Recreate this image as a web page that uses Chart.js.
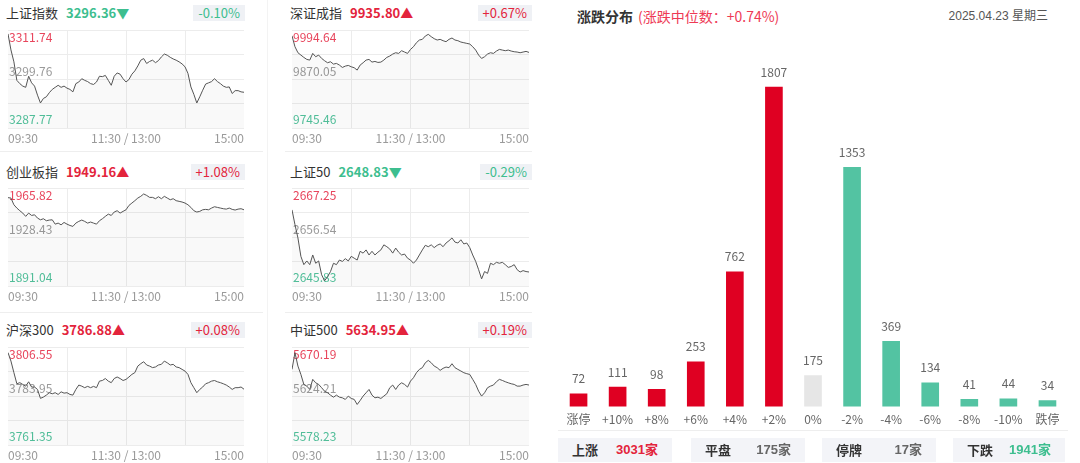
<!DOCTYPE html>
<html>
<head>
<meta charset="utf-8">
<script src="https://cdn.jsdelivr.net/npm/chart.js@4.4.1/dist/chart.umd.min.js"></script>
<style>
body { margin:0; width:1080px; height:463px; background:#fff; overflow:hidden; position:relative; font-family:"Noto Sans CJK SC", sans-serif; }
canvas { position:absolute; }
.head { position:absolute; height:18px; line-height:18px; font-size:13px; white-space:nowrap; display:flex; }
.head .nm { color:#333; }
.head .pr { font-weight:bold; margin-left:8px; }
.chg { position:absolute; height:16px; line-height:16px; font-size:13px; padding:0 5px; background:#eff1f5; }
.up { color:#e3243c; }
.down { color:#3dbe8f; }
.line { position:absolute; background:#eeeeee; }
.title { position:absolute; left:577px; top:6px; font-size:14px; font-weight:bold; color:#333; line-height:20px; }
.sub { position:absolute; left:638px; top:6px; font-size:14px; color:#ee3a55; line-height:20px; }
.date { position:absolute; right:32px; top:8px; font-size:12px; color:#555; line-height:16px; font-family:"Liberation Sans", "Noto Sans CJK SC", sans-serif; }
.box { position:absolute; top:438px; height:24px; line-height:24px; background:#f3f4f8; font-size:13px; font-weight:bold; display:flex; justify-content:space-between; padding:0 14px 0 14px; box-sizing:border-box; }
.box .k { color:#333; }
.box .v { font-family:"Liberation Sans", "Noto Sans CJK SC", sans-serif; }
</style>
</head>
<body>
<div id="left"></div>
<div class="title">涨跌分布</div>
<div class="sub">(涨跌中位数：+0.74%)</div>
<div class="date">2025.04.23 星期三</div>
<canvas id="g_dist" width="508" height="393" style="left:559px;top:40px"></canvas>
<div class="line" style="left:558px;top:430px;width:510px;height:1px"></div>
<div id="summary"></div>
<script>
Chart.defaults.font.family = "'Noto Sans CJK SC', sans-serif";
Chart.defaults.animation = false;

// 横轴刻度
const timeTicks = ['09:30', '', '11:30 / 13:00', '', '15:00'];

const indexNames = ['上证指数', '深证成指', '创业板指', '上证50', '沪深300', '中证500'];
const indexPrices = ['3296.36▼', '9935.80▲', '1949.16▲', '2648.83▼', '3786.88▲', '5634.95▲'];
const indexChanges = ['-0.10%', '+0.67%', '+1.08%', '-0.29%', '+0.08%', '+0.19%'];

// 纵轴: [下限, 昨收, 上限]
const shAxis = [3287.77, 3299.76, 3311.74];
const szAxis = [9745.46, 9870.05, 9994.64];
const cybAxis = [1891.04, 1928.43, 1965.82];
const sz50Axis = [2645.83, 2656.54, 2667.25];
const hs300Axis = [3761.35, 3783.95, 3806.55];
const zz500Axis = [5578.23, 5624.21, 5670.19];

// 分时走势 (每3分钟一个点)
const shLine = [
  3310.8, 3306.9, 3304.0, 3299.5, 3298.7, 3298.1, 3297.8, 3300.5, 3298.9, 3298.1,
  3295.9, 3294.0, 3295.1, 3295.5, 3296.5, 3297.3, 3297.8, 3298.3, 3297.8, 3298.1,
  3297.6, 3297.3, 3296.7, 3298.7, 3299.1, 3299.9, 3299.5, 3299.2, 3298.7, 3298.5,
  3299.1, 3300.5, 3300.4, 3300.7, 3299.5, 3298.3, 3300.5, 3301.3, 3301.0, 3299.9,
  3299.1, 3299.7, 3301.0, 3301.8, 3303.0, 3304.4, 3304.8, 3303.6, 3304.1, 3304.4,
  3303.8, 3304.3, 3305.2, 3305.9, 3305.6, 3305.1, 3304.7, 3304.4, 3304.0, 3303.5,
  3302.8, 3301.2, 3297.9, 3296.1, 3294.0, 3295.5, 3297.1, 3298.6, 3298.9, 3299.2,
  3299.9, 3299.2, 3298.7, 3298.1, 3297.8, 3297.9, 3296.3, 3297.0, 3297.0, 3296.7,
  3296.6
];
const szLine = [
  9980.0, 9952.4, 9937.2, 9931.3, 9925.4, 9920.3, 9918.6, 9935.5, 9927.1, 9931.3,
  9922.8, 9917.0, 9911.9, 9914.4, 9908.5, 9910.2, 9906.0, 9900.0, 9903.4, 9905.1,
  9901.7, 9899.2, 9893.3, 9906.0, 9911.9, 9918.6, 9920.3, 9913.5, 9915.2, 9912.7,
  9913.5, 9918.6, 9925.4, 9928.8, 9933.8, 9937.2, 9935.5, 9942.3, 9938.9, 9935.5,
  9945.6, 9952.4, 9962.5, 9969.3, 9971.0, 9979.4, 9983.7, 9977.7, 9972.7, 9969.3,
  9971.0, 9967.6, 9965.1, 9971.0, 9974.4, 9969.3, 9967.6, 9964.2, 9962.5, 9960.8,
  9959.2, 9952.4, 9943.9, 9931.3, 9922.8, 9927.1, 9933.8, 9937.2, 9935.5, 9941.4,
  9945.6, 9943.9, 9942.3, 9943.9, 9941.4, 9939.7, 9938.9, 9937.2, 9938.9, 9940.6,
  9938.0
];
const cybLine = [
  1958.5, 1958.2, 1953.1, 1950.6, 1948.6, 1946.8, 1944.3, 1946.8, 1945.0, 1945.5,
  1943.0, 1941.7, 1942.5, 1941.0, 1941.5, 1941.7, 1938.4, 1939.2, 1937.9, 1939.7,
  1938.4, 1937.4, 1936.7, 1939.2, 1940.5, 1941.5, 1940.5, 1939.2, 1940.0, 1939.2,
  1938.4, 1941.0, 1942.5, 1944.3, 1946.0, 1945.0, 1947.6, 1948.6, 1946.8, 1948.1,
  1949.3, 1952.6, 1954.4, 1956.2, 1958.2, 1959.5, 1961.3, 1960.2, 1958.7, 1958.7,
  1957.7, 1959.2, 1957.7, 1959.5, 1958.2, 1956.9, 1957.7, 1956.2, 1955.7, 1955.2,
  1954.4, 1953.1, 1951.1, 1948.6, 1947.6, 1948.1, 1949.3, 1949.6, 1949.3, 1950.6,
  1951.6, 1951.1, 1950.6, 1950.1, 1949.8, 1950.6, 1949.6, 1949.1, 1949.8, 1950.1,
  1949.3
];
const sz50Line = [
  2662.5, 2659.3, 2656.4, 2652.4, 2650.6, 2651.4, 2650.6, 2652.7, 2650.9, 2651.4,
  2648.4, 2647.1, 2648.0, 2649.1, 2650.9, 2650.6, 2651.6, 2651.3, 2651.9, 2651.4,
  2652.4, 2652.0, 2651.6, 2653.5, 2653.1, 2653.8, 2652.7, 2653.5, 2652.7, 2653.3,
  2653.8, 2654.9, 2654.5, 2654.0, 2653.1, 2654.2, 2653.3, 2652.7, 2652.9, 2652.0,
  2651.6, 2650.9, 2651.6, 2652.7, 2653.8, 2654.8, 2654.5, 2654.9, 2654.3, 2654.8,
  2655.1, 2654.5, 2655.3, 2655.8, 2656.4, 2655.5, 2655.3, 2656.0, 2655.1, 2655.3,
  2654.3, 2652.7, 2651.3, 2649.5, 2647.5, 2649.1, 2648.7, 2650.9, 2650.6, 2651.1,
  2650.9, 2651.1, 2650.6, 2650.0, 2650.2, 2650.6, 2649.5, 2649.0, 2649.3, 2649.1,
  2649.0
];
const hs300Line = [
  3804.0, 3800.1, 3794.8, 3789.7, 3790.2, 3789.4, 3788.6, 3790.6, 3788.2, 3788.2,
  3787.1, 3783.0, 3783.6, 3784.5, 3785.6, 3785.1, 3785.6, 3784.8, 3786.0, 3785.4,
  3785.6, 3784.8, 3784.5, 3787.1, 3789.1, 3788.6, 3787.9, 3788.5, 3787.9, 3788.5,
  3787.9, 3790.9, 3791.2, 3792.1, 3790.9, 3790.2, 3792.1, 3792.8, 3792.1, 3791.2,
  3791.7, 3792.8, 3794.0, 3794.8, 3797.8, 3798.9, 3799.8, 3798.3, 3797.8, 3797.1,
  3797.4, 3798.3, 3798.6, 3800.1, 3799.3, 3798.3, 3798.6, 3797.4, 3797.1, 3796.3,
  3795.5, 3794.0, 3790.2, 3787.9, 3785.6, 3787.1, 3788.2, 3789.7, 3790.2, 3790.9,
  3791.2, 3790.6, 3790.2, 3789.7, 3789.1, 3788.2, 3787.1, 3787.9, 3787.9, 3788.2,
  3787.2
];
const zz500Line = [
  5649.3, 5664.9, 5652.4, 5644.6, 5635.3, 5633.7, 5630.6, 5640.0, 5636.8, 5635.3,
  5632.2, 5629.0, 5627.5, 5625.3, 5623.4, 5625.3, 5623.4, 5622.8, 5621.3, 5624.4,
  5622.2, 5621.3, 5616.6, 5620.3, 5624.4, 5627.5, 5630.6, 5625.3, 5622.8, 5623.4,
  5622.2, 5624.4, 5626.6, 5632.2, 5634.7, 5630.6, 5634.7, 5636.8, 5635.3, 5632.8,
  5638.4, 5641.5, 5646.2, 5649.3, 5650.9, 5655.5, 5657.7, 5655.5, 5652.4, 5650.9,
  5648.4, 5650.3, 5651.5, 5650.9, 5654.6, 5650.9, 5649.3, 5647.8, 5646.2, 5645.3,
  5644.6, 5640.0, 5635.3, 5629.0, 5624.4, 5627.5, 5632.2, 5633.7, 5634.7, 5637.8,
  5640.0, 5639.0, 5637.8, 5636.8, 5635.9, 5635.3, 5633.7, 5633.7, 5634.7, 5635.3,
  5634.7
];

// 涨跌分布
const distLabels = ['涨停', '+10%', '+8%', '+6%', '+4%', '+2%', '0%', '-2%', '-4%', '-6%', '-8%', '-10%', '跌停'];
const distCounts = [72, 111, 98, 253, 762, 1807, 175, 1353, 369, 134, 41, 44, 34];
const summaryNames = ['上涨', '平盘', '停牌', '下跌'];
const summaryCounts = ['3031家', '175家', '17家', '1941家'];

const allLines = [shLine, szLine, cybLine, sz50Line, hs300Line, zz500Line];
const allAxes = [shAxis, szAxis, cybAxis, sz50Axis, hs300Axis, zz500Axis];

//左侧y轴的三个数字, 画在线的下面
const sideLabels = {
  id: 'sideLabels',
  beforeDatasetsDraw(chart, args, opts) {
    if (!opts.axis) return;
    const y = chart.scales.y;
    const ctx = chart.ctx;
    const left = chart.chartArea.left + 1;
    const a = opts.axis;
    ctx.save();
    ctx.font = "12px 'Noto Sans CJK SC', sans-serif";
    ctx.textBaseline = 'middle';
    ctx.fillStyle = '#e8455c';
    ctx.fillText(a[2].toFixed(2), left, y.getPixelForValue(a[2]) + 7);
    ctx.fillStyle = '#9a9a9a';
    ctx.fillText(a[1].toFixed(2), left, y.getPixelForValue((a[0] + a[2]) / 2) - 8);
    ctx.fillStyle = '#52c29c';
    ctx.fillText(a[0].toFixed(2), left, y.getPixelForValue(a[0]) - 9);
    ctx.restore();
  }
};

function miniChart(i) {
  const col = i % 2, row = Math.floor(i / 2);
  const areaLeft = [5, 289][col];
  const areaW = [242, 243][col];
  const headY = [4, 163, 321][row];
  const chartTop = [29, 187, 346][row];
  const up = indexChanges[i][0] == '+';
  const cls = up ? 'up' : 'down';

  let html = '<div class="head" style="left:' + (areaLeft + 1) + 'px;top:' + headY + 'px">' +
    '<span class="nm">' + indexNames[i] + '</span><span class="pr ' + cls + '">' + indexPrices[i] + '</span></div>' +
    '<div class="chg ' + cls + '" style="right:' + (1080 - [245, 532][col]) + 'px;top:' + (headY + 1) + 'px">' + indexChanges[i] + '</div>' +
    '<canvas id="g' + i + '" width="' + areaW + '" height="120" style="left:' + areaLeft + 'px;top:' + chartTop + 'px"></canvas>';
  document.getElementById('left').insertAdjacentHTML('beforeend', html);
}

for (let i = 0; i < 6; i++) miniChart(i);

// 分隔线
let seps = '';
seps += '<div class="line" style="left:0;top:151px;width:263px;height:1px"></div>';
seps += '<div class="line" style="left:285px;top:151px;width:247px;height:1px"></div>';
seps += '<div class="line" style="left:0;top:312px;width:263px;height:1px"></div>';
seps += '<div class="line" style="left:285px;top:312px;width:247px;height:1px"></div>';
seps += '<div class="line" style="left:267px;top:0;width:1px;height:463px;background:#f3f3f3"></div>';
document.getElementById('left').insertAdjacentHTML('beforeend', seps);

for (let i = 0; i < 6; i++) {
  const axis = allAxes[i];
  const points = allLines[i].map((v, k) => ({x: k, y: v}));
  new Chart(document.getElementById('g' + i).getContext('2d'), {
    type: 'line',
    data: {
      datasets: [{
        data: points,
        borderColor: '#555',
        borderWidth: 1,
        pointRadius: 0,
        tension: 0,
        fill: 'start',
        backgroundColor: 'rgba(0,0,0,0.025)'
      }]
    },
    options: {
      responsive: false,
      layout: {padding: {top: 1, right: 1}},
      plugins: {
        legend: {display: false},
        tooltip: {enabled: false},
        sideLabels: {axis: axis}
      },
      scales: {
        x: {
          type: 'linear',
          min: 0,
          max: 80,
          border: {display: false},
          grid: {
            drawTicks: false,
            color: (c) => (c.tick && (c.tick.value == 0 || c.tick.value == 80)) ? 'rgba(0,0,0,0)' : '#ececec'
          },
          ticks: {
            stepSize: 20,
            autoSkip: false,
            maxRotation: 0,
            align: 'inner',
            padding: 3,
            color: '#9a9a9a',
            font: {size: 12},
            callback: (v) => timeTicks[v / 20]
          }
        },
        y: {
          min: axis[0],
          max: axis[2],
          border: {display: false},
          grid: {drawTicks: false, color: '#ececec'},
          ticks: {display: false},
          afterBuildTicks: (scale) => {
            const lo = scale.min, hi = scale.max;
            scale.ticks = [0, 1, 2, 3, 4].map(k => ({value: lo + (hi - lo) * k / 4}));
          }
        }
      }
    },
    plugins: [sideLabels]
  });
}

// 柱子上方的数字
const barValues = {
  id: 'barValues',
  afterDatasetsDraw(chart) {
    const ctx = chart.ctx;
    const meta = chart.getDatasetMeta(0);
    ctx.save();
    ctx.font = "12px 'Noto Sans CJK SC', sans-serif";
    ctx.fillStyle = '#666';
    ctx.textAlign = 'center';
    ctx.textBaseline = 'middle';
    meta.data.forEach((bar, k) => {
      ctx.fillText(String(distCounts[k]), bar.x, bar.y - 15);
    });
    ctx.restore();
  }
};

let barColors = [];
for (let k = 0; k < distLabels.length; k++) {
  if (k < 6) barColors.push('#df0022');
  else if (k == 6) barColors.push('#e6e6e6');
  else barColors.push('#53c3a2');
}

new Chart(document.getElementById('g_dist').getContext('2d'), {
  type: 'bar',
  data: {
    labels: distLabels,
    datasets: [{
      data: distCounts,
      backgroundColor: barColors,
      barThickness: 17
    }]
  },
  options: {
    responsive: false,
    layout: {padding: {top: 13}},
    plugins: {legend: {display: false}, tooltip: {enabled: false}},
    scales: {
      x: {
        border: {display: false},
        grid: {display: false, drawTicks: false},
        ticks: {color: '#666', font: {size: 12}, padding: 6, maxRotation: 0, autoSkip: false}
      },
      y: {display: false, min: 0, max: 2000}
    }
  },
  plugins: [barValues]
});

// 底部汇总
const boxLeft = [558, 691, 822, 953];
const boxColors = ['#e3243c', '#666', '#666', '#3dbe8f'];
let sum = '';
for (let k = 0; k < summaryNames.length; k++) {
  sum += '<div class="box" style="left:' + boxLeft[k] + 'px;width:' + (k == 3 ? 112 : 114) + 'px">' +
    '<span class="k">' + summaryNames[k] + '</span><span class="v" style="color:' + boxColors[k] + '">' + summaryCounts[k] + '</span></div>';
}
document.getElementById('summary').innerHTML = sum;
</script>
</body>
</html>
